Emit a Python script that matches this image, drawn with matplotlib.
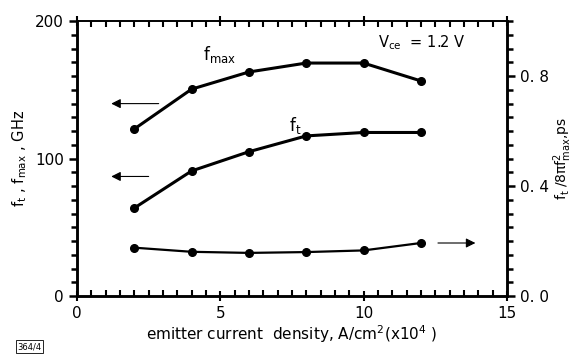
import matplotlib
matplotlib.use("Agg")
import matplotlib.pyplot as plt
from matplotlib.ticker import MultipleLocator

density = [2, 4, 6, 8, 10, 12]
fmax = [121.5, 150.5, 163, 169.5, 169.5, 156.5]
ft = [64, 91, 105, 116.5, 119, 119]
delay = [0.176, 0.161, 0.157, 0.160, 0.166, 0.193]

x_ticks = [0, 5, 10, 15]
left_ticks = [0, 100, 200]
right_ticks = [0.0, 0.4, 0.8]

plt.rcParams['font.family'] = ['DejaVu Sans']
plt.rcParams['mathtext.default'] = 'regular'
fig = plt.figure(figsize=(5.74, 3.58), dpi=100)
ax = fig.add_axes([0.134, 0.173, 0.749, 0.768])
ax2 = ax.twinx()

ax.plot(density, fmax, color='black', lw=2.2, marker='o', ms=5.5)
ax.plot(density, ft, color='black', lw=2.2, marker='o', ms=5.5)
ax2.plot(density, delay, color='black', lw=1.6, marker='o', ms=5.5)

ax.set_xlim(0, 15)
ax.set_ylim(0, 200)
ax2.set_ylim(0, 1.0)

ax.set_xticks(x_ticks)
ax.set_yticks(left_ticks)
ax2.set_yticks(right_ticks)
ax2.set_yticklabels([f"{v:.1f}".replace('.', '. ') for v in right_ticks])
ax.xaxis.set_minor_locator(MultipleLocator(0.5))
ax.yaxis.set_minor_locator(MultipleLocator(10))
ax2.yaxis.set_minor_locator(MultipleLocator(0.05))

for a in (ax, ax2):
    for s in a.spines.values():
        s.set_linewidth(1.8)
    a.spines['top'].set_linewidth(1.2)
ax.tick_params(axis='x', which='both', top=True, direction='in', width=1.5)
ax.tick_params(axis='x', which='major', length=7, direction='inout')
ax.tick_params(axis='x', which='minor', length=4)
ax.tick_params(axis='y', which='major', direction='out', length=6, width=1.8)
ax.tick_params(axis='y', which='minor', direction='out', length=4, width=1.8)
ax2.tick_params(axis='y', which='major', direction='out', length=6, width=1.8)
ax2.tick_params(axis='y', which='minor', direction='out', length=4, width=1.8)
ax.tick_params(labelsize=11)
ax2.tick_params(labelsize=11)

ax.set_xlabel(r"emitter current  density, A/cm$^2$(x10$^4$ )", fontsize=11, labelpad=2)
ax.set_ylabel(r"f$_t$ , f$_{max}$ , GHz", fontsize=10.5, labelpad=4)
ax2.set_ylabel(r"f$_t$ /8$\pi$f$_{max}^{2}$,ps", fontsize=10, labelpad=2)

ax.text(4.4, 172, r"f$_{max}$", fontsize=12)
ax.text(7.4, 120, r"f$_t$", fontsize=12)
ax.text(10.5, 181, r"V$_{ce}$  = 1.2 V", fontsize=10.5)

ax.annotate("", xy=(1.1, 140), xytext=(2.95, 140),
            arrowprops=dict(arrowstyle='-|>', color='black', lw=0.8, mutation_scale=14))
ax.annotate("", xy=(1.1, 87), xytext=(2.6, 87),
            arrowprops=dict(arrowstyle='-|>', color='black', lw=0.8, mutation_scale=14))
ax2.annotate("", xy=(14.0, 0.193), xytext=(12.5, 0.193),
             arrowprops=dict(arrowstyle='-|>', color='black', lw=0.8, mutation_scale=14))

fig.text(0.03, 0.025, "364/4", fontsize=6,
         bbox=dict(boxstyle='square,pad=0.2', fc='white', ec='black', lw=0.6))

fig.savefig("out.png", dpi=100)
